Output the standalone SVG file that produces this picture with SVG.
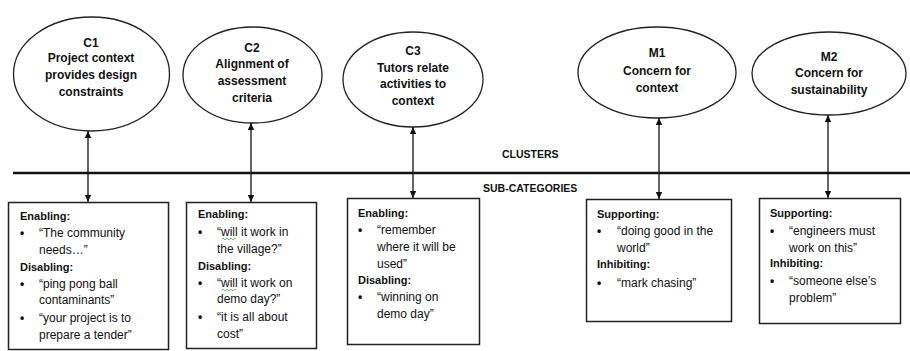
<svg xmlns="http://www.w3.org/2000/svg" width="910" height="351" viewBox="0 0 910 351">
<style>
.node ellipse{fill:#fff;stroke:#222;stroke-width:1.3}
.node rect{fill:#fff;stroke:#222;stroke-width:1.5}
.et{font-family:"Liberation Sans",Arial,sans-serif;font-size:12px;font-weight:bold;fill:#111;text-anchor:middle}
.bt{font-family:"Liberation Sans",Arial,sans-serif;font-size:12px;fill:#111}
.bh{font-weight:bold;font-size:11px}
.bu{font-weight:bold}
.lbl{font-family:"Liberation Sans",Arial,sans-serif;font-size:10.5px;font-weight:bold;fill:#111}
.conn line{stroke:#111;stroke-width:1.3}
.sq{fill:none;stroke:#3a3;stroke-width:0.8}
</style>
<defs>
<marker id="ah" markerWidth="8" markerHeight="8" refX="7" refY="4" orient="auto-start-reverse" markerUnits="userSpaceOnUse">
<path d="M0,0.8 L7,4 L0,7.2 Z" fill="#111"/>
</marker>
</defs>
<rect width="910" height="351" fill="#fff"/>
<line x1="13" y1="173" x2="910" y2="173" stroke="#111" stroke-width="2.5"/>
<text class="lbl" x="502" y="158">CLUSTERS</text>
<text class="lbl" x="483" y="192">SUB-CATEGORIES</text>
<g id="C1" class="node">
<ellipse cx="91.5" cy="74" rx="78" ry="57"/>
<text class="et" x="91" y="47">C1</text>
<text class="et" x="91" y="62">Project context</text>
<text class="et" x="91" y="79">provides design</text>
<text class="et" x="91" y="96">constraints</text>
</g>
<g id="C2" class="node">
<ellipse cx="252.5" cy="75" rx="69.5" ry="48"/>
<text class="et" x="252" y="52">C2</text>
<text class="et" x="252" y="68">Alignment of</text>
<text class="et" x="252" y="85">assessment</text>
<text class="et" x="252" y="102">criteria</text>
</g>
<g id="C3" class="node">
<ellipse cx="413" cy="79.5" rx="70" ry="47.5"/>
<text class="et" x="413" y="55">C3</text>
<text class="et" x="413" y="72">Tutors relate</text>
<text class="et" x="413" y="88">activities to</text>
<text class="et" x="413" y="105">context</text>
</g>
<g id="M1" class="node">
<ellipse cx="657" cy="72.5" rx="79" ry="45.5"/>
<text class="et" x="657" y="57">M1</text>
<text class="et" x="657" y="75">Concern for</text>
<text class="et" x="657" y="92">context</text>
</g>
<g id="M2" class="node">
<ellipse cx="829" cy="73.5" rx="77" ry="41.5"/>
<text class="et" x="829" y="61">M2</text>
<text class="et" x="829" y="77">Concern for</text>
<text class="et" x="829" y="94">sustainability</text>
</g>
<g id="connectors" class="conn">
<line x1="88" y1="131" x2="88" y2="202" marker-start="url(#ah)" marker-end="url(#ah)"/>
<line x1="251" y1="123" x2="251" y2="202" marker-start="url(#ah)" marker-end="url(#ah)"/>
<line x1="413" y1="127" x2="413" y2="198" marker-start="url(#ah)" marker-end="url(#ah)"/>
<line x1="659" y1="118" x2="659" y2="199" marker-start="url(#ah)" marker-end="url(#ah)"/>
<line x1="828" y1="115" x2="828" y2="198" marker-start="url(#ah)" marker-end="url(#ah)"/>
</g>
<g id="S1" class="node">
<rect x="8.5" y="202.5" width="160" height="147"/>
<text class="bt bh" x="20" y="220">Enabling:</text>
<text class="bt bu" x="20" y="237">•</text>
<text class="bt" x="39" y="237">“The community</text>
<text class="bt" x="39" y="254">needs…”</text>
<text class="bt bh" x="20" y="271">Disabling:</text>
<text class="bt bu" x="20" y="288">•</text>
<text class="bt" x="39" y="288">“ping pong ball</text>
<text class="bt" x="39" y="304">contaminants”</text>
<text class="bt bu" x="20" y="322">•</text>
<text class="bt" x="39" y="322">“your project is to</text>
<text class="bt" x="39" y="339">prepare a tender”</text>
</g>
<g id="S2" class="node">
<rect x="186.5" y="202.5" width="130" height="146"/>
<text class="bt bh" x="198" y="218">Enabling:</text>
<text class="bt bu" x="198" y="236">•</text>
<text class="bt" x="217" y="236">“will it work in</text>
<text class="bt" x="217" y="253">the village?”</text>
<text class="bt bh" x="198" y="270">Disabling:</text>
<text class="bt bu" x="198" y="287">•</text>
<text class="bt" x="217" y="287">“will it work on</text>
<text class="bt" x="217" y="303">demo day?”</text>
<text class="bt bu" x="198" y="321">•</text>
<text class="bt" x="217" y="321">“it is all about</text>
<text class="bt" x="217" y="338">cost”</text>
<path class="sq" d="M222,239 q1,-1.5 2,0 t2,0 t2,0 t2,0 t2,0 t2,0 t2,0"/>
<path class="sq" d="M222,290 q1,-1.5 2,0 t2,0 t2,0 t2,0 t2,0 t2,0 t2,0"/>
</g>
<g id="S3" class="node">
<rect x="347.5" y="198.5" width="132" height="146"/>
<text class="bt bh" x="358" y="217">Enabling:</text>
<text class="bt bu" x="358" y="234">•</text>
<text class="bt" x="377" y="234">“remember</text>
<text class="bt" x="377" y="251">where it will be</text>
<text class="bt" x="377" y="268">used”</text>
<text class="bt bh" x="358" y="284">Disabling:</text>
<text class="bt bu" x="358" y="301">•</text>
<text class="bt" x="377" y="301">“winning on</text>
<text class="bt" x="377" y="318">demo day”</text>
</g>
<g id="S4" class="node">
<rect x="586.5" y="199.5" width="145" height="122"/>
<text class="bt bh" x="597" y="218">Supporting:</text>
<text class="bt bu" x="597" y="235">•</text>
<text class="bt" x="617" y="235">“doing good in the</text>
<text class="bt" x="617" y="252">world”</text>
<text class="bt bh" x="597" y="268">Inhibiting:</text>
<text class="bt bu" x="597" y="287">•</text>
<text class="bt" x="617" y="287">“mark chasing”</text>
</g>
<g id="S5" class="node">
<rect x="759.5" y="198.5" width="141" height="125"/>
<text class="bt bh" x="770" y="217">Supporting:</text>
<text class="bt bu" x="770" y="235">•</text>
<text class="bt" x="789" y="235">“engineers must</text>
<text class="bt" x="789" y="252">work on this”</text>
<text class="bt bh" x="770" y="267">Inhibiting:</text>
<text class="bt bu" x="770" y="285">•</text>
<text class="bt" x="789" y="285">“someone else’s</text>
<text class="bt" x="789" y="302">problem”</text>
</g>
</svg>
